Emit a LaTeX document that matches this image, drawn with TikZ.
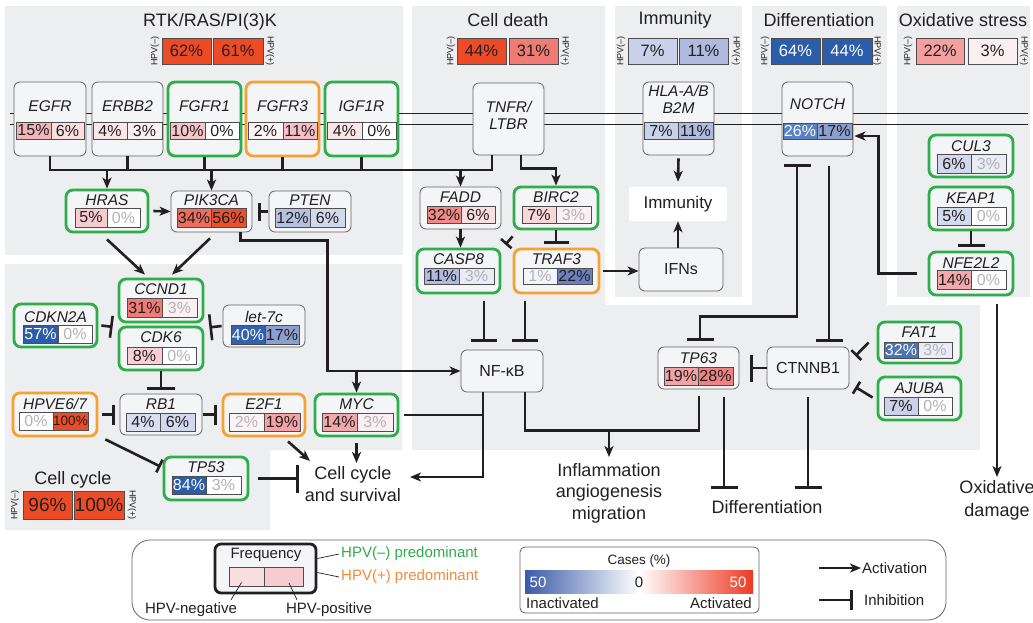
\documentclass[tikz,border=0pt]{standalone}
\usepackage{fontspec}
\setmainfont{Liberation Sans}
\usetikzlibrary{arrows.meta,calc}
\definecolor{panel}{HTML}{EDEEF0}
\definecolor{nodefill}{HTML}{F4F5F7}
\definecolor{grn}{HTML}{2DAE4A}
\definecolor{org}{HTML}{F6A233}
\definecolor{ink}{HTML}{231F20}
\definecolor{gtxt}{HTML}{B2B2BA}
\definecolor{leggreen}{HTML}{2DAE4A}
\definecolor{legorange}{HTML}{F08A3C}
\definecolor{gblue}{HTML}{3A5BA8}
\definecolor{gred}{HTML}{EE3A25}
\definecolor{rHi}{HTML}{EC4B26}
\definecolor{r56}{HTML}{E9502F}
\definecolor{r34}{HTML}{EE6D5E}
\definecolor{r32}{HTML}{F08B8A}
\definecolor{r31}{HTML}{F07A74}
\definecolor{r28}{HTML}{F08282}
\definecolor{r22}{HTML}{F5A09F}
\definecolor{r19}{HTML}{F4A2A4}
\definecolor{r15}{HTML}{F2B6BA}
\definecolor{r14}{HTML}{F4A8AB}
\definecolor{r11}{HTML}{F5BFC5}
\definecolor{r10}{HTML}{F5C5CA}
\definecolor{r8}{HTML}{F8D0D4}
\definecolor{r7}{HTML}{F8D6D9}
\definecolor{r6}{HTML}{F9DFE2}
\definecolor{r5}{HTML}{F6CCD0}
\definecolor{r4}{HTML}{FAE6E8}
\definecolor{r3}{HTML}{FBF0F1}
\definecolor{r2}{HTML}{FBF3F4}
\definecolor{bHi}{HTML}{2B5DAA}
\definecolor{b40}{HTML}{3062AE}
\definecolor{b32}{HTML}{4A73B8}
\definecolor{b26}{HTML}{5A82C3}
\definecolor{b22}{HTML}{6982BF}
\definecolor{b17}{HTML}{8C9FD1}
\definecolor{b12}{HTML}{B6C0E1}
\definecolor{b11}{HTML}{AFBADE}
\definecolor{b7}{HTML}{CAD1EB}
\definecolor{b6}{HTML}{D2D8EE}
\definecolor{b5}{HTML}{D4DAEF}
\definecolor{b4}{HTML}{D9DEF1}
\definecolor{b3}{HTML}{E9ECF5}
\definecolor{b1}{HTML}{F4F5FA}
\tikzset{
  gbox/.style={draw=ink!70, line width=0.8pt, rounded corners=6pt, fill=nodefill},
  gboxG/.style={draw=grn, line width=2.8pt, rounded corners=7pt, fill=nodefill},
  gboxO/.style={draw=org, line width=2.8pt, rounded corners=7pt, fill=nodefill},
  whitebox/.style={fill=white, draw=none},
  legframe/.style={draw=ink!70, line width=0.8pt, rounded corners=18pt},
  freqbox/.style={draw=ink, line width=2.8pt, rounded corners=6pt, fill=nodefill},
  casebox/.style={draw=ink!70, line width=0.8pt, rounded corners=5pt},
  gname/.style={font=\fontsize{15.5}{17.5}\selectfont\itshape, inner sep=0pt, text=ink, align=center},
  plain/.style={font=\fontsize{16}{18}\selectfont, text=ink, inner sep=0pt, align=center},
  cellb/.style={draw=ink!80, line width=0.7pt, inner sep=0pt, font=\fontsize{16}{16}\selectfont, text=ink},
  tcell/.style={font=\fontsize{16.5}{17}\selectfont},
  ttl/.style={font=\fontsize{18}{20}\selectfont, text=ink, inner sep=0pt},
  hpvl/.style={font=\fontsize{9}{10}\selectfont, text=ink, inner sep=0pt},
  outc/.style={font=\fontsize{18}{22}\selectfont, text=ink, align=center, inner sep=0pt},
  legt/.style={font=\fontsize{15}{17}\selectfont, text=ink, inner sep=0pt},
  conn/.style={draw=ink, line width=2.6pt},
  act/.style={conn, -{Stealth[length=11pt,width=9pt,inset=3pt]}},
  inh/.style={conn, -{Bar[width=#1]}}, inh/.default=20pt,
}
% box: id, style, x1, y1, x2, y2
\newcommand\gbx[6]{\node[#2,minimum width={(#5-#3)*1pt},minimum height={(#6-#4)*1pt},inner sep=0pt] (#1) at ({(#3+#5)/2},{(#4+#6)/2}) {};}
% name: id, y, text
\newcommand\gnm[3]{\coordinate (#1ny) at (0,#2); \node[gname] (#1n) at (#1.center |- #1ny) {#3};}
% cell: id, x1, x2, y1, y2, style, text
\newcommand\cel[7]{\node[cellb,#6,minimum width={(#3-#2)*1pt},minimum height={(#5-#4)*1pt}] (#1) at ({(#2+#3)/2},{(#4+#5)/2}) {#7};}
\begin{document}
\begin{tikzpicture}[x=1pt,y=-1pt]
\useasboundingbox (0,0) rectangle (1033,622);
% panels
\fill[panel] (5,6) rectangle (403,255);
\fill[panel] (5,264) -- (402,264) -- (402,450) -- (270,450) -- (270,530) -- (5,530) -- cycle;
\fill[panel] (412,6) rectangle (605,450);
\fill[panel] (615,6) rectangle (742,297);
\fill[panel] (752,6) rectangle (887,450);
\fill[panel] (412,305) rectangle (980,450);
\fill[panel] (897,6) rectangle (1030,297);
% membrane
\draw[ink, line width=0.9pt] (10,113) -- (1028,113);
\draw[ink, line width=0.9pt] (10,124) -- (1028,124);

% titles
\node[ttl] (t1) at (210,22) {RTK/RAS/PI(3)K};
\cel{t1a}{162}{211}{38}{64}{tcell,fill=rHi}{62\%}
\cel{t1b}{213}{263}{38}{64}{tcell,fill=rHi}{61\%}
\node[hpvl,rotate=90] (t1m) at (155,51) {HPV(\textendash)};
\node[hpvl,rotate=-90] (t1p) at (270,51) {HPV(+)};

\node[ttl] (t2) at (508,20) {Cell death};
\cel{t2a}{457}{506}{38}{64}{tcell,fill=rHi}{44\%}
\cel{t2b}{509}{558}{38}{64}{tcell,fill=r31}{31\%}
\node[hpvl,rotate=90] (t2m) at (451,51) {HPV(\textendash)};
\node[hpvl,rotate=-90] (t2p) at (565,51) {HPV(+)};

\node[ttl] (t3) at (675,20) {Immunity};
\cel{t3a}{628}{677}{38}{64}{tcell,fill=b7}{7\%}
\cel{t3b}{679}{728}{38}{64}{tcell,fill=b11}{11\%}
\node[hpvl,rotate=90] (t3m) at (621,51) {HPV(\textendash)};
\node[hpvl,rotate=-90] (t3p) at (736,51) {HPV(+)};

\node[ttl] (t4) at (819,20) {Differentiation};
\cel{t4a}{771}{820}{38}{64}{tcell,fill=bHi,text=white}{64\%}
\cel{t4b}{822}{872}{38}{64}{tcell,fill=bHi,text=white}{44\%}
\node[hpvl,rotate=90] (t4m) at (765,51) {HPV(\textendash)};
\node[hpvl,rotate=-90] (t4p) at (877,51) {HPV(+)};

\node[ttl] (t5) at (963,20) {Oxidative stress};
\cel{t5a}{916}{964}{38}{64}{tcell,fill=r22}{22\%}
\cel{t5b}{968}{1017}{38}{64}{tcell,fill=r3}{3\%}
\node[hpvl,rotate=90] (t5m) at (908,51) {HPV(\textendash)};
\node[hpvl,rotate=-90] (t5p) at (1024,51) {HPV(+)};

\node[ttl] (t6) at (73,480) {Cell cycle};
\cel{t6a}{23}{72}{491}{519}{font=\fontsize{19}{19}\selectfont,fill=rHi}{96\%}
\cel{t6b}{74}{124}{491}{519}{font=\fontsize{19}{19}\selectfont,fill=rHi}{100\%}
\node[hpvl,rotate=90] (t6m) at (15,505) {HPV(\textendash)};
\node[hpvl,rotate=-90] (t6p) at (132,505) {HPV(+)};

% RTK genes
\gbx{egfr}{gbox}{14}{82}{86}{156}
\gnm{egfr}{106}{EGFR}
\cel{egfr-a}{16}{51}{122}{139}{fill=r15}{15\%}
\cel{egfr-b}{51}{84}{122}{139}{fill=r6}{6\%}
\gbx{erbb2}{gbox}{92}{82}{163}{156}
\gnm{erbb2}{106}{ERBB2}
\cel{erbb2-a}{93}{127}{122}{139}{fill=r4}{4\%}
\cel{erbb2-b}{127}{162}{122}{139}{fill=r3}{3\%}
\gbx{fgfr1}{gboxG}{168}{82}{241}{156}
\gnm{fgfr1}{106}{FGFR1}
\cel{fgfr1-a}{170}{205}{122}{139}{fill=r10}{10\%}
\cel{fgfr1-b}{205}{239}{122}{139}{fill=white}{0\%}
\gbx{fgfr3}{gboxO}{246}{82}{319}{156}
\gnm{fgfr3}{106}{FGFR3}
\cel{fgfr3-a}{248}{283}{122}{139}{fill=r2}{2\%}
\cel{fgfr3-b}{283}{317}{122}{139}{fill=r11}{11\%}
\gbx{igf1r}{gboxG}{325}{82}{398}{156}
\gnm{igf1r}{106}{IGF1R}
\cel{igf1r-a}{327}{362}{122}{139}{fill=r4}{4\%}
\cel{igf1r-b}{362}{396}{122}{139}{fill=white}{0\%}

\gbx{tnfr}{gbox}{473}{83}{544}{155}
\gnm{tnfr}{115.5}{TNFR/\\LTBR}
\gbx{hla}{gbox}{643}{82}{714}{155}
\gnm{hla}{99.5}{HLA-A/B\\B2M}
\cel{hla-a}{644}{678}{122}{139}{fill=b7}{7\%}
\cel{hla-b}{678}{713}{122}{139}{fill=b11}{11\%}
\gbx{notch}{gbox}{782}{82}{853}{156}
\gnm{notch}{104}{NOTCH}
\cel{notch-a}{783}{817}{123}{139}{fill=b26,text=white}{26\%}
\cel{notch-b}{817}{852}{123}{139}{fill=b17}{17\%}

\gbx{hras}{gboxG}{66}{190}{148}{232}
\gnm{hras}{200}{HRAS}
\cel{hras-a}{75}{107}{208}{227}{fill=r5}{5\%}
\cel{hras-b}{107}{140}{208}{227}{fill=white,text=gtxt}{0\%}
\gbx{pik3ca}{gbox}{171}{191}{252}{232}
\gnm{pik3ca}{200}{PIK3CA}
\cel{pik3ca-a}{177}{211}{208}{227}{fill=r34}{34\%}
\cel{pik3ca-b}{211}{246}{208}{227}{fill=r56}{56\%}
\gbx{pten}{gbox}{269}{191}{351}{232}
\gnm{pten}{200}{PTEN}
\cel{pten-a}{275}{310}{208}{227}{fill=b12}{12\%}
\cel{pten-b}{310}{345}{208}{227}{fill=b6}{6\%}

% cell death
\gbx{fadd}{gbox}{420}{187}{501}{229}
\gnm{fadd}{197}{FADD}
\cel{fadd-a}{427}{461}{206}{223}{fill=r32}{32\%}
\cel{fadd-b}{461}{495}{206}{223}{fill=r6}{6\%}
\gbx{birc2}{gboxG}{514}{187}{598}{229}
\gnm{birc2}{197}{BIRC2}
\cel{birc2-a}{522}{556}{206}{223}{fill=r7}{7\%}
\cel{birc2-b}{556}{591}{206}{223}{fill=r3,text=gtxt}{3\%}
\gbx{casp8}{gboxG}{417}{249}{500}{293}
\gnm{casp8}{259}{CASP8}
\cel{casp8-a}{424}{459}{268}{284}{fill=b11}{11\%}
\cel{casp8-b}{459}{494}{268}{284}{fill=b3,text=gtxt}{3\%}
\gbx{traf3}{gboxO}{514}{249}{599}{293}
\gnm{traf3}{259}{TRAF3}
\cel{traf3-a}{523}{557}{268}{284}{fill=b1,text=gtxt}{1\%}
\cel{traf3-b}{557}{592}{268}{284}{fill=b22}{22\%}
\gbx{ifns}{gbox}{639}{248}{723}{291}
\node[plain] (ifnst) at (ifns.center) {IFNs};
\gbx{immu}{whitebox}{629}{187}{727}{221}
\node[plain, font=\fontsize{17}{19}\selectfont] (immut) at (immu.center) {Immunity};

% oxidative
\gbx{cul3}{gboxG}{929}{135}{1013}{177}
\gnm{cul3}{146}{CUL3}
\cel{cul3-a}{937}{971}{154}{173}{fill=b6}{6\%}
\cel{cul3-b}{971}{1006}{154}{173}{fill=b3,text=gtxt}{3\%}
\gbx{keap1}{gboxG}{929}{187}{1013}{230}
\gnm{keap1}{198}{KEAP1}
\cel{keap1-a}{937}{971}{207}{225}{fill=b5}{5\%}
\cel{keap1-b}{971}{1006}{207}{225}{fill=white,text=gtxt}{0\%}
\gbx{nfe2l2}{gboxG}{929}{252}{1013}{295}
\gnm{nfe2l2}{263}{NFE2L2}
\cel{nfe2l2-a}{937}{971}{270}{289}{fill=r14}{14\%}
\cel{nfe2l2-b}{971}{1006}{270}{289}{fill=white,text=gtxt}{0\%}

% cell cycle
\gbx{ccnd1}{gboxG}{119}{279}{203}{322}
\gnm{ccnd1}{289}{CCND1}
\cel{ccnd1-a}{127}{162}{298}{317}{fill=r31}{31\%}
\cel{ccnd1-b}{162}{197}{298}{317}{fill=r3,text=gtxt}{3\%}
\gbx{cdk6}{gboxG}{119}{327}{203}{370}
\gnm{cdk6}{337}{CDK6}
\cel{cdk6-a}{127}{162}{347}{364}{fill=r8}{8\%}
\cel{cdk6-b}{162}{196}{347}{364}{fill=white,text=gtxt}{0\%}
\gbx{cdkn2a}{gboxG}{14}{304}{97}{347}
\gnm{cdkn2a}{317}{CDKN2A}
\cel{cdkn2a-a}{23}{58}{325}{343}{fill=bHi,text=white}{57\%}
\cel{cdkn2a-b}{58}{92}{325}{343}{fill=white,text=gtxt}{0\%}
\gbx{let7c}{gbox}{223}{305}{305}{347}
\gnm{let7c}{317}{let-7c}
\cel{let7c-a}{231}{265}{325}{344}{fill=b40,text=white}{40\%}
\cel{let7c-b}{265}{299}{325}{344}{fill=b17}{17\%}
\gbx{rb1}{gbox}{120}{394}{202}{435}
\gnm{rb1}{404}{RB1}
\cel{rb1-a}{126}{160}{413}{431}{fill=b4}{4\%}
\cel{rb1-b}{160}{195}{413}{431}{fill=b6}{6\%}
\gbx{hpv}{gboxO}{13}{393}{97}{436}
\gnm{hpv}{404}{HPVE6/7}
\cel{hpv-a}{19}{53}{412}{430}{fill=white,text=gtxt}{0\%}
\cel{hpv-b}{53}{88}{412}{430}{fill=rHi,font=\fontsize{13.5}{14}\selectfont}{100\%}
\gbx{e2f1}{gboxO}{223}{394}{305}{436}
\gnm{e2f1}{404}{E2F1}
\cel{e2f1-a}{229}{264}{413}{431}{fill=r2,text=gtxt}{2\%}
\cel{e2f1-b}{264}{300}{413}{431}{fill=r19}{19\%}
\gbx{myc}{gboxG}{315}{394}{398}{436}
\gnm{myc}{404}{MYC}
\cel{myc-a}{322}{357}{413}{431}{fill=r14}{14\%}
\cel{myc-b}{357}{393}{413}{431}{fill=r3,text=gtxt}{3\%}
\gbx{tp53}{gboxG}{164}{457}{248}{500}
\gnm{tp53}{467}{TP53}
\cel{tp53-a}{172}{206}{476}{494}{fill=bHi,text=white}{84\%}
\cel{tp53-b}{206}{241}{476}{494}{fill=white,text=gtxt}{3\%}

% lower
\gbx{nfkb}{gbox}{461}{350}{543}{392}
\node[plain] (nfkbt) at (nfkb.center) {NF-κB};
\gbx{tp63}{gbox}{658}{347}{739}{389}
\gnm{tp63}{358}{TP63}
\cel{tp63-a}{664}{698}{367}{385}{fill=r19}{19\%}
\cel{tp63-b}{698}{733}{367}{385}{fill=r28}{28\%}
\gbx{ctnnb1}{gbox}{767}{347}{849}{389}
\node[plain] (ctnnb1t) at (ctnnb1.center) {CTNNB1};
\gbx{fat1}{gboxG}{878}{322}{961}{363}
\gnm{fat1}{332}{FAT1}
\cel{fat1-a}{884}{918}{342}{358}{fill=b32,text=white}{32\%}
\cel{fat1-b}{918}{952}{342}{358}{fill=b3,text=gtxt}{3\%}
\gbx{ajuba}{gboxG}{878}{377}{961}{420}
\gnm{ajuba}{388}{AJUBA}
\cel{ajuba-a}{884}{918}{397}{415}{fill=b7}{7\%}
\cel{ajuba-b}{918}{952}{397}{415}{fill=white,text=gtxt}{0\%}

% outcomes
\node[outc] (ccs) at (353,484) {Cell cycle\\and survival};
\node[outc, font=\fontsize{18}{21.5}\selectfont] (infl) at (609,493) {Inflammation\\angiogenesis\\migration};
\node[outc] (diff) at (767,507) {Differentiation};
\node[outc, font=\fontsize{18}{23}\selectfont] (oxd) at (997,500) {Oxidative\\damage};

% connectors: RTK bus
\coordinate (bus) at (0,170);
\coordinate (busR) at ($(tnfr.south)+(-16.5,0)$);
\draw[conn] (egfr.south) |- (busR |- bus) -- (busR);
\foreach \n in {erbb2,fgfr1,fgfr3,igf1r} \draw[conn] (\n.south) -- (\n.south |- bus);
\draw[act] (hras.north |- bus) -- (hras.north);
\draw[act] (pik3ca.north |- bus) -- (pik3ca.north);
\draw[act] (fadd.north |- bus) -- (fadd.north);
\draw[act] ($(tnfr.south)+(12.5,0)$) |- ($(birc2.north)+(0,-17)$) -- (birc2.north);

\draw[act] ($(hras.east)+(4,0)$) -- (pik3ca.west);
\draw[inh=18pt] ($(pten.west)+(-1,0)$) -- ($(pik3ca.east)+(6,0)$);
\draw[act] ($(hras.south)+(0,6)$) -- ($(ccnd1.north)+(-16,-3)$);
\draw[act] ($(pik3ca.south)+(-1.5,6)$) -- ($(ccnd1.north)+(11,-3)$);
\coordinate (pkc) at ($(pik3ca.south east)+(75,8)$);
\draw[act] ($(pik3ca.south east)+(-12,0)$) |- (pkc) |- (nfkb.west);
\draw[act] (myc.north |- nfkb.west) -- (myc.north);

\draw[inh=22pt] ($(cdkn2a.east)+(3,0)$) -- ($(ccnd1.south west)+(-5,3.5)$);
\draw[inh=26pt] ($(let7c.west)+(-1,0)$) -- ($(ccnd1.south east)+(5,4)$);
\draw[inh=28pt] (cdk6.south) -- ($(rb1.north)+(0,-4)$);
\draw[inh=20pt] ($(hpv.east)+(4,0)$) -- ($(rb1.west)+(-5,0)$);
\draw[inh=20pt] ($(rb1.east)+(1,0)$) -- ($(e2f1.west)+(-5,-0.5)$);
\draw[inh=14pt] ($(hpv.south east)+(7,2)$) -- ($(tp53.north west)+(-2,11)$);
\draw[inh=28pt] ($(tp53.east)+(9,0)$) -- ($(ccs.center)+(-54,-5.5)$);
\draw[act] ($(e2f1.south)+(24,4)$) -- ($(ccs.center)+(-43,-23)$);
\draw[act] ($(myc.south)+(0,6)$) -- ($(myc.south |- ccs.center)+(0,-21)$);
\coordinate (nfd) at ($(nfkb.south)+(-19,0)$);
\draw[conn] ($(myc.east)+(5,0)$) -- (nfd |- myc.east);
\draw[act] (nfd) |- ($(ccs.center)+(57,-7)$);

% cell death
\draw[act] (fadd.south) -- (fadd.south |- casp8.north);
\draw[inh=14pt] ($(birc2.south west)+(0,6)$) -- ($(casp8.north east)+(4,-3)$);
\draw[inh=25pt] (birc2.south) -- ($(birc2.south |- traf3.north)+(0,-4)$);
\draw[act] ($(traf3.east)+(3,0)$) -- (ifns.west |- traf3.east);
\draw[act] (immu.south |- ifns.north) -- (immu.south);
\draw[act] ($(hla.south)+(0,3)$) -- ($(immu.north)+(0,-5)$);
\draw[inh=26pt] ($(casp8.south)+(25.5,7)$) -- ($(nfkb.north)+(-18,-8)$);
\draw[inh=26pt] ($(traf3.south)+(-31.5,7)$) -- ($(nfkb.north)+(23,-8)$);
\coordinate (j1) at ($(tp63.south)+(0.5,41)$);
\draw[conn] ($(nfkb.south)+(23,0)$) |- (j1) -- ($(tp63.south)+(0.5,7)$);
\draw[act] (infl.center |- j1) -- ($(infl.center)+(0,-36)$);

% differentiation
\draw[inh=27pt] ($(tp63.south)+(25.5,8)$) -- ($(diff.center)+(-43,-18)$);
\draw[inh=27pt] ($(ctnnb1.south)+(0,8)$) -- ($(ctnnb1.south |- diff.center)+(0,-18)$);
\draw[inh=27pt] (ctnnb1.west) -- ($(tp63.east)+(11,0)$);
\draw[conn,{Bar[width=27pt]}-{Bar[width=27pt]}] ($(notch.south)+(-20.5,8)$) |- ($(tp63.north)+(1.5,-30)$) -- ($(tp63.north)+(1.5,-6)$);
\draw[inh=27pt] ($(notch.south)+(11.5,10)$) -- ($(ctnnb1.north)+(21,-5)$);
\draw[inh=14pt] ($(fat1.west)+(-8,0)$) -- ($(ctnnb1.east)+(6,-12)$);
\draw[inh=14pt] ($(ajuba.west)+(-4,-1)$) -- ($(ctnnb1.east)+(6,19)$);

% oxidative
\draw[act] ($(nfe2l2.west)+(-11,0)$) -| ($(notch.east)+(25,17)$) -- ($(notch.east)+(1,17)$);
\draw[inh=27pt] (keap1.south) -- ($(nfe2l2.north)+(0,-4)$);
\draw[act] ($(nfe2l2.south)+(26,8)$) -- ($(oxd.center)+(0,-23)$);

% legend
\gbx{leg}{legframe}{132}{540}{946}{620}
\gbx{freq}{freqbox}{215}{544}{316}{593}
\node[legt] (freqt) at (266,555) {Frequency};
\cel{fq-a}{229}{264}{567}{586}{fill=r6}{}
\cel{fq-b}{264}{303}{567}{586}{fill=r11!80!white}{}
\node[legt] (hneg) at (191,610) {HPV-negative};
\node[legt] (hpos) at (329,610) {HPV-positive};
\draw[ink, line width=0.7pt] ($(fq-a.center)+(-5,6)$) -- ($(hneg.north)+(40,-3)$);
\draw[ink, line width=0.7pt] ($(fq-b.center)+(5.5,6.5)$) -- ($(hpos.north)+(-32,-3)$);
\node[legt, text=leggreen, anchor=west] (lg1) at (341,554) {HPV(\textendash) predominant};
\node[legt, text=legorange, anchor=west] (lg2) at (341,577) {HPV(+) predominant};
\draw[ink, line width=0.7pt] ($(freq.east)+(0,-10)$) -- ($(lg1.west)+(-2,0)$);
\draw[ink, line width=0.7pt] ($(freq.east)+(0,4)$) -- ($(lg2.west)+(-2,0)$);
\gbx{cases}{casebox}{520}{547}{759}{613}
\node[legt, font=\fontsize{13.5}{15}\selectfont] (casest) at (639,561) {Cases (\%)};
\node[inner sep=0pt, minimum width=114pt, minimum height=23pt, left color=gblue, right color=white] (gl) at (582,581.5) {};
\node[inner sep=0pt, minimum width=114pt, minimum height=23pt, left color=white, right color=gred] (gr) at (696,581.5) {};
\node[legt, text=white] (g50a) at (538,582) {50};
\node[legt] (g0) at (639,582) {0};
\node[legt, text=white] (g50b) at (738,582) {50};
\node[legt, anchor=west] (inact) at (526,603) {Inactivated};
\node[legt, anchor=east] (actd) at (752,603) {Activated};
\node[legt, anchor=west] (lact) at (862,568) {Activation};
\draw[act] ($(lact.west)+(-43,0)$) -- ($(lact.west)+(-1,0)$);
\node[legt, anchor=west] (linh) at (864,600) {Inhibition};
\draw[inh] ($(linh.west)+(-45,0)$) -- ($(linh.west)+(-11,0)$);
\end{tikzpicture}
\end{document}
